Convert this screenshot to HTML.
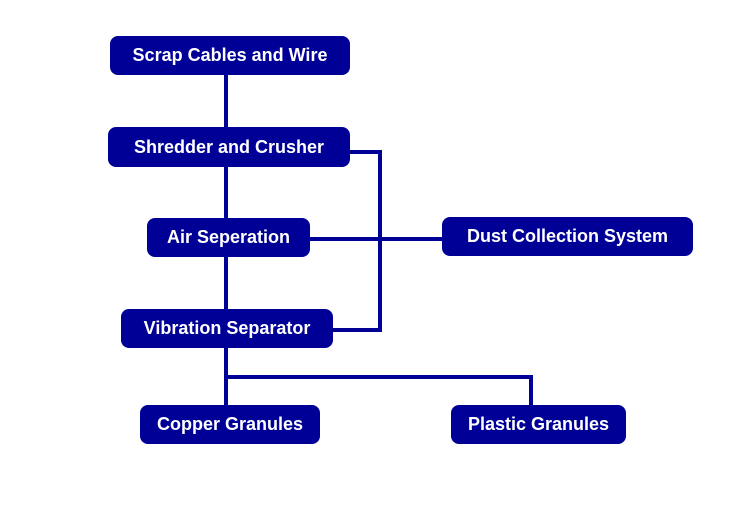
<!DOCTYPE html>
<html><head><style>
body{margin:0;width:750px;height:510px;background:#fff;position:relative;overflow:hidden;font-family:"Liberation Sans",sans-serif}
.b{position:absolute;background:#000096;color:#fff;border-radius:8px;font-weight:bold;font-size:18px;display:flex;align-items:center;justify-content:center;white-space:nowrap;letter-spacing:0}
.l{position:absolute;background:#000096}
</style></head><body>
<div class="l" style="left:224px;top:70px;width:4px;height:340px"></div>
<div class="l" style="left:340px;top:150px;width:42px;height:4px"></div>
<div class="l" style="left:378px;top:150px;width:4px;height:182px"></div>
<div class="l" style="left:320px;top:328px;width:62px;height:4px"></div>
<div class="l" style="left:300px;top:237px;width:150px;height:4px"></div>
<div class="l" style="left:224px;top:375px;width:309px;height:4px"></div>
<div class="l" style="left:529px;top:375px;width:4px;height:35px"></div>
<div class="b" style="left:110px;top:36px;width:240px;height:39px">Scrap Cables and Wire</div>
<div class="b" style="left:108px;top:127px;width:242px;height:40px">Shredder and Crusher</div>
<div class="b" style="left:147px;top:218px;width:163px;height:39px">Air Seperation</div>
<div class="b" style="left:121px;top:309px;width:212px;height:39px">Vibration Separator</div>
<div class="b" style="left:442px;top:217px;width:251px;height:39px">Dust Collection System</div>
<div class="b" style="left:140px;top:405px;width:180px;height:39px">Copper Granules</div>
<div class="b" style="left:451px;top:405px;width:175px;height:39px">Plastic Granules</div>
</body></html>
